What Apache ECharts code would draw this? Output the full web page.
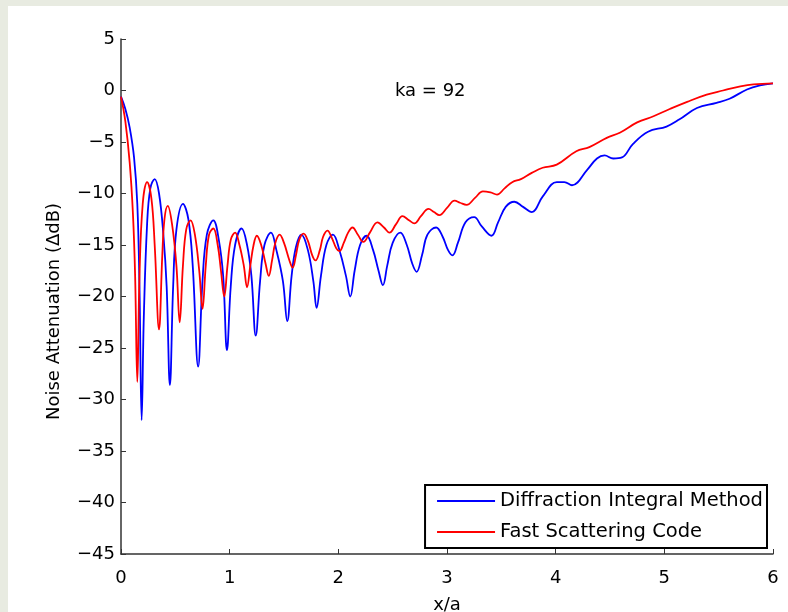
<!DOCTYPE html>
<html>
<head>
<meta charset="utf-8">
<script src="https://cdn.jsdelivr.net/npm/echarts@6/dist/echarts.min.js"></script>
<style>
  html, body { margin: 0; padding: 0; background: #fff; }
  #chart { width: 788px; height: 612px; }
</style>
</head>
<body>
<div id="chart"></div>
<script>
// Diffraction Integral Method (blue)
var xBlue = [0.00,0.04,0.08,0.12,0.15,0.17,0.19,0.21,0.24,0.27,0.31,0.35,0.39,0.42,0.45,0.48,0.51,0.57,0.62,0.66,
  0.71,0.75,0.79,0.85,0.90,0.94,0.975,1.01,1.05,1.11,1.16,1.20,1.24,1.28,1.32,1.38,1.43,1.49,1.53,1.57,
  1.61,1.66,1.72,1.77,1.80,1.84,1.89,1.95,2.01,2.07,2.11,2.15,2.20,2.26,2.32,2.37,2.41,2.45,2.50,2.57,
  2.63,2.68,2.72,2.77,2.82,2.90,2.96,3.01,3.05,3.10,3.17,3.25,3.32,3.41,3.47,3.54,3.62,3.70,3.78,3.88,
  4.01,4.08,4.15,4.29,4.38,4.45,4.53,4.61,4.71,4.85,5.02,5.14,5.30,5.48,5.60,5.76,5.88,6.00];
var yBlue = [-0.6,-1.8,-3.6,-6.5,-11,-19,-32,-22,-13,-9.5,-8.6,-10,-14,-19,-28.6,-19,-13.5,-11.0,-12.5,-17,
  -26.8,-18.5,-14,-12.6,-14.5,-18,-25.2,-19,-15,-13.4,-15,-18,-23.8,-18.5,-15,-13.8,-15.5,-18.5,-22.4,-18,
  -15.2,-14.0,-15.5,-18.5,-21.1,-18,-15,-14.0,-15.5,-18,-20.0,-17.5,-15,-14.1,-15.5,-17.5,-18.9,-17,-14.8,-13.8,
  -15,-16.8,-17.6,-16,-14,-13.3,-14.2,-15.5,-16.0,-14.8,-12.8,-12.3,-13.2,-14.1,-12.8,-11.3,-10.8,-11.3,-11.8,-10.3,
  -8.9,-8.9,-9.2,-7.7,-6.6,-6.3,-6.6,-6.5,-5.2,-4.0,-3.5,-2.8,-1.7,-1.2,-0.8,0.1,0.5,0.7];

// Fast Scattering Code (red)
var xRed = [0.00,0.04,0.08,0.11,0.13,0.15,0.17,0.20,0.24,0.28,0.31,0.35,0.38,0.40,0.43,0.47,0.51,0.54,0.57,0.60,
  0.64,0.68,0.72,0.75,0.78,0.81,0.85,0.89,0.92,0.95,0.98,1.01,1.05,1.09,1.13,1.16,1.19,1.22,1.25,1.29,
  1.33,1.36,1.39,1.42,1.46,1.50,1.55,1.58,1.61,1.64,1.68,1.72,1.76,1.79,1.83,1.86,1.90,1.94,1.98,2.01,
  2.05,2.09,2.13,2.18,2.23,2.29,2.36,2.42,2.47,2.53,2.59,2.65,2.70,2.76,2.83,2.88,2.93,3.00,3.07,3.12,
  3.18,3.26,3.33,3.40,3.46,3.53,3.60,3.68,3.78,3.88,4.01,4.19,4.31,4.47,4.59,4.75,4.90,5.05,5.21,5.39,
  5.54,5.70,5.82,6.00];
var yRed = [-0.6,-3.0,-7,-12,-18,-28.3,-18,-11,-8.9,-10.5,-15,-23.2,-16,-12.5,-11.2,-13,-17,-22.5,-17,-13.5,
  -12.6,-14,-17.5,-21.2,-17,-14,-13.4,-15,-17.5,-20.0,-17,-14.5,-13.8,-15,-17,-19.1,-17,-15,-14.1,-15,
  -16.8,-18.0,-16.5,-14.8,-14.0,-14.8,-16.5,-17.2,-16,-14.5,-13.9,-14.6,-16,-16.5,-15.5,-14.2,-13.6,-14.3,-15.3,-15.6,
  -14.8,-13.8,-13.3,-14.0,-14.7,-13.8,-12.8,-13.3,-13.8,-13.0,-12.2,-12.6,-12.9,-12.2,-11.5,-11.8,-12.1,-11.4,-10.7,-10.9,
  -11.1,-10.4,-9.8,-9.9,-10.1,-9.5,-8.9,-8.6,-8.0,-7.5,-7.2,-5.9,-5.5,-4.6,-4.1,-3.1,-2.5,-1.8,-1.1,-0.4,
  0.0,0.4,0.6,0.7];

var seriesNames = ['Diffraction Integral Method', 'Fast Scattering Code'];

function pairs(xs, ys) {
  return xs.map(function (x, i) { return [x, ys[i]]; });
}
function minus(v) {
  return String(v).replace('-', '\u2212');
}

var chart = echarts.init(document.getElementById('chart'));
var font = 'DejaVu Sans, Verdana, sans-serif';

var option = {
  backgroundColor: '#fff',
  animation: false,
  grid: { left: 121, right: 15, top: 39, bottom: 58, outerBoundsMode: 'none', containLabel: false },
  xAxis: {
    type: 'value',
    min: 0, max: 6, interval: 1,
    name: 'x/a',
    nameLocation: 'middle',
    nameGap: 42,
    nameTextStyle: { fontFamily: font, fontSize: 18, color: '#000' },
    axisLine: { onZero: false, lineStyle: { color: '#333', width: 1.5 } },
    axisTick: { inside: true, length: 5, lineStyle: { color: '#333' } },
    axisLabel: { fontFamily: font, fontSize: 18, color: '#000', margin: 15 },
    splitLine: { show: false }
  },
  yAxis: {
    type: 'value',
    min: -45, max: 5, interval: 5,
    name: 'Noise Attenuation (\u0394dB)',
    nameLocation: 'middle',
    nameGap: 58,
    nameTextStyle: { fontFamily: font, fontSize: 18, color: '#000', padding: [0, 30, 0, 0] },
    axisLine: { show: true, onZero: false, lineStyle: { color: '#333', width: 1.5 } },
    axisTick: { show: true, inside: true, length: 5, lineStyle: { color: '#333' } },
    axisLabel: { fontFamily: font, fontSize: 18, color: '#000', margin: 6, formatter: minus },
    splitLine: { show: false }
  },
  legend: {
    orient: 'vertical',
    right: 21, bottom: 64,
    backgroundColor: '#fff',
    borderColor: '#000',
    borderWidth: 2,
    borderRadius: 0,
    padding: [6, 4, 6, 12],
    icon: 'rect',
    itemWidth: 58,
    itemHeight: 2,
    itemGap: 11,
    textStyle: { fontFamily: font, fontSize: 19.5, color: '#000' },
    data: seriesNames
  },
  graphic: [
    { type: 'rect', shape: { x: 0, y: 0, width: 788, height: 6 }, style: { fill: '#e8ebe1' }, silent: true },
    { type: 'rect', shape: { x: 0, y: 0, width: 8, height: 612 }, style: { fill: '#e8ebe1' }, silent: true },
    { type: 'text', left: 395, top: 82,
      style: { text: 'ka = 92', font: '18px ' + font, fill: '#000' } }
  ],
  series: [
    {
      name: seriesNames[0], type: 'line', data: pairs(xBlue, yBlue),
      symbol: 'none', smooth: 0.4,
      lineStyle: { color: '#0000ff', width: 1.8 }, itemStyle: { color: '#0000ff' }
    },
    {
      name: seriesNames[1], type: 'line', data: pairs(xRed, yRed),
      symbol: 'none', smooth: 0.4,
      lineStyle: { color: '#ff0000', width: 1.8 }, itemStyle: { color: '#ff0000' }
    }
  ]
};
chart.setOption(option);
</script>
</body>
</html>
